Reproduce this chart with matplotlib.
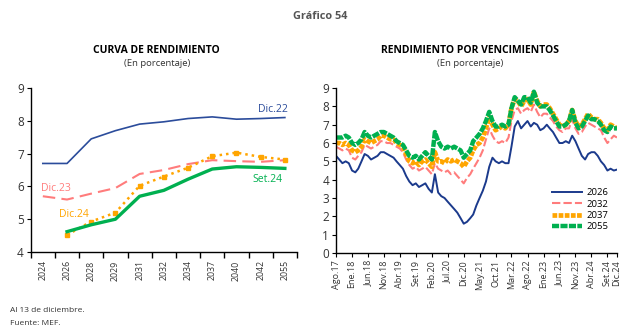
import matplotlib.pyplot as plt
import numpy as np
import pandas as pd

plt.rcParams['font.family'] = ['Open Sans', 'DejaVu Sans']

# curva de rendimiento por plazo (bonos soberanos)
plazos = ['2024', '2026', '2028', '2029', '2031', '2032', '2034', '2037', '2040', '2042', '2055']
dic22 = [6.70, 6.70, 7.45, 7.70, 7.90, 7.97, 8.07, 8.12, 8.05, 8.07, 8.10]
dic23 = [5.70, 5.60, 5.78, 5.95, 6.38, 6.50, 6.68, 6.80, 6.77, 6.75, 6.80]
dic24 = [np.nan, 4.52, 4.93, 5.20, 6.02, 6.30, 6.57, 6.92, 7.03, 6.90, 6.82]
set24 = [np.nan, 4.62, 4.83, 5.00, 5.70, 5.88, 6.22, 6.53, 6.60, 6.58, 6.55]

# rendimiento mensual por vencimiento, ago.17 - dic.24
meses = pd.date_range('2017-08-01', periods=89, freq='MS')
r2026 = [5.3, 5.1, 4.9, 5.0, 4.9, 4.5, 4.4, 4.6, 5.0, 5.4, 5.3, 5.1, 5.2, 5.3, 5.5, 5.5,
         5.4, 5.3, 5.2, 5.0, 4.8, 4.6, 4.2, 3.9, 3.7, 3.8, 3.6, 3.7, 3.8, 3.5, 3.3, 4.3,
         3.3, 3.1, 3.0, 2.8, 2.6, 2.4, 2.2, 1.9, 1.6, 1.7, 1.9, 2.1, 2.6, 3.0, 3.4, 3.9,
         4.7, 5.2, 5.0, 4.9, 5.0, 4.9, 4.9, 5.8, 6.9, 7.2, 6.8, 7.0, 7.2, 6.9, 7.1, 7.0,
         6.7, 6.8, 7.0, 6.8, 6.6, 6.3, 6.0, 6.0, 6.1, 6.0, 6.4, 6.1, 5.7, 5.3, 5.1, 5.4,
         5.5, 5.5, 5.3, 5.0, 4.8, 4.5, 4.6, 4.5, 4.55]
r2032 = [5.8, 5.7, 5.6, 5.7, 5.6, 5.2, 5.1, 5.3, 5.5, 5.9, 5.8, 5.7, 5.8, 5.9, 6.1, 6.1,
         6.0, 6.0, 5.9, 5.8, 5.7, 5.5, 5.1, 4.8, 4.6, 4.7, 4.5, 4.6, 4.7, 4.5, 4.3, 4.9,
         4.6, 4.5, 4.4, 4.5, 4.3, 4.4, 4.2, 4.0, 3.8, 4.1, 4.3, 4.6, 4.9, 5.2, 5.6, 6.2,
         6.8, 6.4, 6.1, 6.0, 6.1, 6.0, 6.3, 7.2, 7.8, 7.9, 7.6, 7.8, 7.9, 7.7, 8.1, 7.7,
         7.4, 7.6, 7.6, 7.4, 7.2, 6.9, 6.7, 6.6, 6.8, 6.8, 7.3, 6.8, 6.5, 6.6, 6.9, 7.1,
         7.0, 6.9, 6.8, 6.7, 6.3, 6.0, 6.2, 6.4, 6.3]
r2037 = [6.0, 6.0, 5.9, 6.0, 5.9, 5.6, 5.5, 5.6, 5.8, 6.2, 6.1, 6.0, 6.1, 6.2, 6.4, 6.4,
         6.3, 6.2, 6.2, 6.0, 5.9, 5.8, 5.4, 5.0, 4.9, 5.0, 4.8, 5.0, 5.1, 4.9, 4.7, 5.5,
         5.0, 5.0, 4.9, 5.1, 5.0, 5.1, 5.0, 4.9, 4.7, 5.0, 5.2, 5.6, 5.9, 6.0, 6.3, 6.8,
         7.4, 7.0, 6.7, 6.8, 6.9, 6.8, 7.0, 7.9, 8.4, 8.3, 8.0, 8.3, 8.4, 8.1, 8.8, 8.3,
         8.0, 8.1, 8.1, 7.9, 7.6, 7.3, 7.0, 6.9, 7.0, 7.2, 7.8, 7.2, 6.9, 7.0, 7.3, 7.6,
         7.4, 7.3, 7.3, 7.1, 6.8, 6.7, 7.0, 6.9, 6.8]
r2055 = [6.3, 6.3, 6.3, 6.4, 6.3, 6.0, 5.9, 6.0, 6.2, 6.6, 6.4, 6.3, 6.4, 6.5, 6.6, 6.6,
         6.5, 6.4, 6.3, 6.1, 6.0, 5.9, 5.6, 5.3, 5.2, 5.3, 5.1, 5.3, 5.5, 5.3, 5.1, 6.6,
         6.1, 5.8, 5.7, 5.8, 5.7, 5.8, 5.7, 5.6, 5.2, 5.4, 5.6, 6.1, 6.3, 6.5, 6.8, 7.2,
         7.7, 7.2, 6.9, 6.9, 7.0, 6.9, 7.0, 7.9, 8.5, 8.3, 8.1, 8.5, 8.5, 8.2, 8.8, 8.2,
         8.0, 8.0, 8.0, 7.8, 7.5, 7.2, 6.9, 6.9, 7.0, 7.2, 7.8, 7.1, 6.8, 6.9, 7.2, 7.5,
         7.3, 7.3, 7.2, 7.0, 6.7, 6.6, 6.9, 6.8, 6.8]
etiquetas = ['Ago.17', 'Ene.18', 'Jun.18', 'Nov.18', 'Abr.19', 'Set.19', 'Feb.20', 'Jul.20',
             'Dic.20', 'May.21', 'Oct.21', 'Mar.22', 'Ago.22', 'Ene.23', 'Jun.23', 'Nov.23',
             'Abr.24', 'Set.24', 'Dic.24']

AZUL = '#2b4c9b'
AZUL_OSC = '#1b3a8c'
ROSA = '#ff7c7c'
NARANJA = '#ffa500'
VERDE = '#00b050'
GRIS = '#333333'

fig = plt.figure(figsize=(6.4, 3.36), dpi=100)
fig.text(0.5, 0.952, 'Gráfico 54', ha='center', va='center', fontsize=7.8,
         fontweight='bold', color='#555555')

# --- curva de rendimiento ---
ax1 = fig.add_axes([0.048, 0.25, 0.416, 0.488])
x = np.arange(len(plazos))
ax1.plot(x, dic22, color=AZUL, lw=1.2)
ax1.plot(x, dic23, color=ROSA, lw=1.5, ls=(0, (6, 3)))
ax1.plot(x, dic24, color=NARANJA, lw=1.8, ls=(0, (1, 1.6)), marker='s', ms=2.5)
ax1.plot(x, set24, color=VERDE, lw=2.4)
ax1.text(9.5, 8.36, 'Dic.22', color=AZUL, fontsize=7.5, ha='center', va='center')
ax1.text(0.55, 5.95, 'Dic.23', color=ROSA, fontsize=7.5, ha='center', va='center')
ax1.text(1.3, 5.13, 'Dic.24', color=NARANJA, fontsize=7.5, ha='center', va='center')
ax1.text(9.3, 6.22, 'Set.24', color=VERDE, fontsize=7.5, ha='center', va='center')
ax1.set_xlim(-0.5, 10.5)
ax1.set_ylim(4, 9)
ax1.set_yticks(range(4, 10))
ax1.set_xticks(x)
ax1.set_xticklabels(plazos, rotation=90)
ax1.set_xticks(np.arange(-0.5, 11, 1), minor=True)
ax1.tick_params(axis='x', which='major', length=0, pad=6, labelsize=6.3, labelcolor=GRIS)
ax1.tick_params(axis='x', which='minor', length=4, width=1)
ax1.tick_params(axis='y', length=3, labelsize=8.5, labelcolor=GRIS, pad=2)
fig.text(0.245, 0.85, 'CURVA DE RENDIMIENTO', ha='center', va='center',
         fontsize=7.5, fontweight='bold', color='black')
fig.text(0.245, 0.81, '(En porcentaje)', ha='center', va='center', fontsize=6.8,
         color=GRIS)

# --- rendimiento por vencimientos ---
ax2 = fig.add_axes([0.525, 0.247, 0.439, 0.491])
ax2.plot(meses, r2026, color=AZUL_OSC, lw=1.4, label='2026')
ax2.plot(meses, r2032, color=ROSA, lw=1.5, ls=(0, (4, 1.5)), label='2032')
ax2.plot(meses, r2037, color=NARANJA, lw=3.4, ls=(0, (1, 0.3)), label='2037')
ax2.plot(meses, r2055, color=VERDE, lw=3.2, ls=(0, (1.6, 0.3)), label='2055')
ax2.set_xlim(meses[0], meses[-1])
ax2.set_ylim(0, 9)
ax2.set_yticks(range(0, 10))
pos = list(meses[::5]) + [meses[-1]]
ax2.set_xticks(pos)
ax2.set_xticklabels(etiquetas, rotation=90)
ax2.tick_params(axis='x', length=3, pad=2, labelsize=6.5, labelcolor=GRIS)
ax2.tick_params(axis='y', length=3, labelsize=8.5, labelcolor=GRIS, pad=2)
ax2.legend(loc='lower right', bbox_to_anchor=(1.0, 0.08), frameon=False, fontsize=6.8,
           handlelength=3.2, labelspacing=0.25, handletextpad=0.5)
fig.text(0.735, 0.85, 'RENDIMIENTO POR VENCIMIENTOS', ha='center', va='center',
         fontsize=7.5, fontweight='bold', color='black')
fig.text(0.735, 0.81, '(En porcentaje)', ha='center', va='center', fontsize=6.8,
         color=GRIS)

for ax in (ax1, ax2):
    for lado in ('top', 'right'):
        ax.spines[lado].set_visible(False)
    for lado in ('left', 'bottom'):
        ax.spines[lado].set_linewidth(1.0)

fig.text(0.016, 0.075, 'Al 13 de diciembre.', fontsize=6, color=GRIS, va='center')
fig.text(0.016, 0.038, 'Fuente: MEF.', fontsize=6, color=GRIS, va='center')

fig.savefig('out.png', dpi=100, facecolor='white')
